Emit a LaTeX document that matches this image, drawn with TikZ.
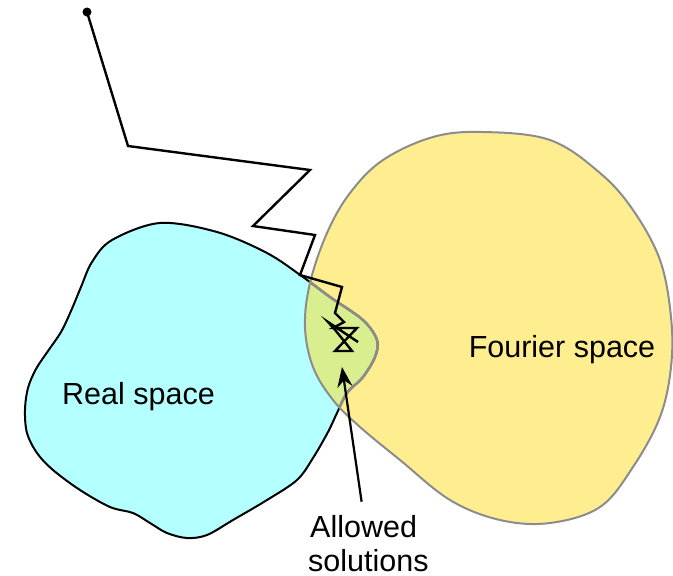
\documentclass[tikz,border=0pt]{standalone}
\usepackage{fontspec}
\setmainfont{Liberation Sans}
\usetikzlibrary{arrows.meta}
\definecolor{realcol}{RGB}{180,255,255}
\definecolor{fourcol}{RGB}{255,238,143}
\definecolor{bothcol}{RGB}{217,238,143}
\definecolor{edgegray}{RGB}{140,140,140}
\begin{document}
\begin{tikzpicture}[x=1pt,y=-1pt,
  lbl/.style={font=\fontsize{30.5}{34}\selectfont, inner sep=0pt},
  walk/.style={line width=2.4pt, line join=miter, black},
  pointer/.style={line width=2.2pt, -{Stealth[length=20pt,width=15pt]}}]
\useasboundingbox (0,0) rectangle (673,576);
\def\realpath{plot[smooth cycle, tension=0.55] coordinates {(160,223) (217,232) (267,253) (303,277) (330,297) (363,320) (377,340) (375,357) (363,377) (347,393) (337,413) (328,432) (313,458) (297,480) (267,500) (233,520) (207,535) (187,538) (167,533) (150,523) (133,513) (110,507) (80,490) (53,470) (37,453) (27,433) (25,410) (28,388) (36,369) (48,351) (61,332) (71,311) (81,287) (92,262) (112,240)}}
\def\fourpath{plot[smooth cycle, tension=0.6] coordinates {(483,132) (550,140) (600,173) (633,210) (660,260) (671,317) (671,367) (660,417) (633,467) (600,507) (550,523) (500,520) (450,500) (400,460) (360,427) (333,400) (313,367) (305,327) (310,283) (327,233) (350,193) (383,160) (433,137)}}
% fills
\fill[realcol] \realpath;
\fill[fourcol] \fourpath;
\begin{scope}
  \clip \fourpath;
  \fill[bothcol] \realpath;
\end{scope}
% outlines
\draw[black, line width=2pt] \realpath;
\begin{scope}
  \clip \fourpath;
  \draw[edgegray, line width=2.6pt] \realpath;
\end{scope}
\draw[edgegray, line width=2pt] \fourpath;
% random walk
\coordinate (start) at (87,12);
\coordinate (end) at (358,342);
\fill (start) circle (4.5pt);
\draw[walk] (start) -- (128,146) -- (310,170) -- (253,226) -- (315,235) -- (300,275)
  -- (342,287) -- (335,313) -- (344,322) -- (333,328) -- (357,328) -- (335,351)
  -- (352,351) -- (336,331) -- (328,322) -- (end);
% labels
\node[lbl, anchor=base] (real) at (138.5,404) {Real space};
\node[lbl, anchor=base] (fourier) at (562,357) {Fourier space};
\node[lbl, anchor=base west] (allowed) at (310,537) {Allowed};
\node[lbl, anchor=base west] (solutions) at (308,571) {solutions};
\coordinate (tip) at (342,367);
\draw[pointer] ([xshift=-2pt,yshift=13pt]allowed.north) -- (tip);
\end{tikzpicture}
\end{document}
